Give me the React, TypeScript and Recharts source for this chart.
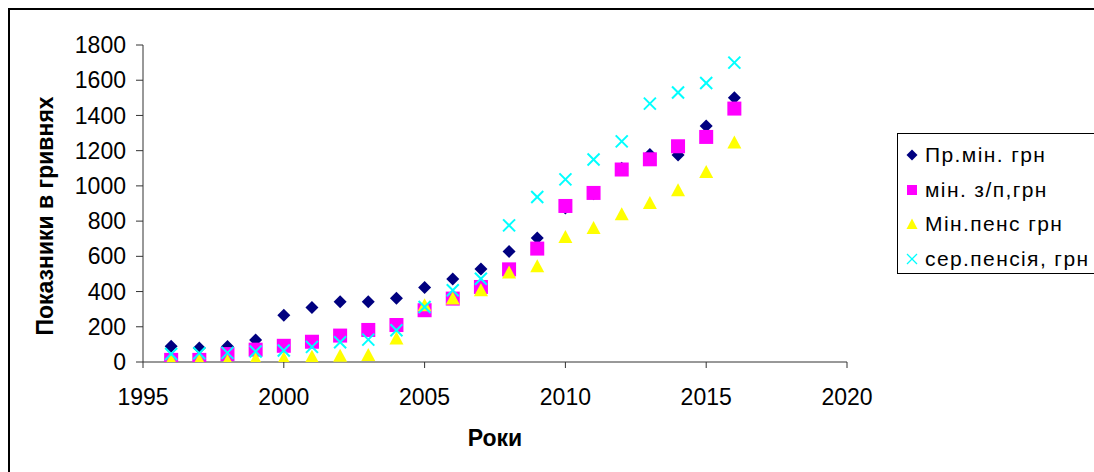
import React from 'react';
import { ScatterChart, Scatter, XAxis, YAxis, Legend, Label } from 'recharts';

const years = [1996, 1997, 1998, 1999, 2000, 2001, 2002, 2003, 2004, 2005, 2006, 2007, 2008, 2009, 2010, 2011, 2012, 2013, 2014, 2015, 2016];
const subsistenceMin = [90, 80, 88, 125, 265, 309, 342, 342, 362, 423, 472, 528, 628, 704, 875, 955, 1100, 1178, 1176, 1340, 1500];
const minWage = [12, 12, 45, 70, 92, 115, 150, 182, 210, 294, 360, 426, 526, 644, 886, 960, 1093, 1151, 1225, 1278, 1439];
const minPension = [10, 10, 6, 17, 20, 30, 35, 40, 133, 322, 360, 407, 508, 543, 710, 761, 839, 903, 975, 1079, 1246];
const avgPension = [45, 50, 52, 60, 65, 86, 112, 127, 180, 312, 407, 473, 776, 937, 1037, 1150, 1253, 1467, 1530, 1584, 1700];

const xTicks = [1995, 2000, 2005, 2010, 2015, 2020];
const yTicks = [0, 200, 400, 600, 800, 1000, 1200, 1400, 1600, 1800];
const seriesNames = ['Пр.мін. грн', 'мін. з/п,грн', 'Мін.пенс грн', 'сер.пенсія, грн'];
const seriesColors = ['#000080', '#FF00FF', '#FFFF00', '#00FFFF'];
const xTitle = 'Роки';
const yTitle = 'Показники в гривнях';

const toData = (vals: number[]) => years.map((y, i) => ({ year: y, value: vals[i] }));

const FONT = '"Liberation Sans", Arial, sans-serif';

const Diamond = (p: any) => {
  const { cx, cy } = p;
  const s = 6.5;
  return <path d={`M${cx},${cy - s}L${cx + s},${cy}L${cx},${cy + s}L${cx - s},${cy}Z`} fill={seriesColors[0]} />;
};
const Square = (p: any) => {
  const { cx, cy } = p;
  return <rect x={cx - 7} y={cy - 7} width={14} height={14} fill={seriesColors[1]} />;
};
const Triangle = (p: any) => {
  const { cx, cy } = p;
  return <path d={`M${cx},${cy - 7}L${cx + 7},${cy + 6}L${cx - 7},${cy + 6}Z`} fill={seriesColors[2]} />;
};
const Cross = (p: any) => {
  const { cx, cy } = p;
  const s = 6;
  return (
    <g stroke={seriesColors[3]} strokeWidth={2}>
      <line x1={cx - s} y1={cy - s} x2={cx + s} y2={cy + s} />
      <line x1={cx - s} y1={cy + s} x2={cx + s} y2={cy - s} />
    </g>
  );
};

const legendMarker = (i: number) => {
  const c = seriesColors[i];
  return (
    <svg width={12} height={12} style={{ display: 'block' }}>
      {i === 0 && <path d="M6,0.5L11.5,6L6,11.5L0.5,6Z" fill={c} />}
      {i === 1 && <rect x={1} y={1} width={10} height={10} fill={c} />}
      {i === 2 && <path d="M6,0.5L11.5,11L0.5,11Z" fill={c} />}
      {i === 3 && (
        <g stroke={c} strokeWidth={1.3}>
          <line x1={1} y1={1} x2={11} y2={11} />
          <line x1={1} y1={11} x2={11} y2={1} />
        </g>
      )}
    </svg>
  );
};

const LegendBox = () => (
  <div
    style={{
      boxSizing: 'border-box',
      width: 197,
      height: 141,
      borderTop: '1px solid #000',
      borderLeft: '1px solid #000',
      borderBottom: '1px solid #000',
      paddingTop: 4,
      fontFamily: FONT,
      fontSize: 21,
      letterSpacing: 1.4,
      color: '#000',
      background: '#fff',
    }}
  >
    {seriesNames.map((n, i) => (
      <div key={n} style={{ height: 34.5, display: 'flex', alignItems: 'center', whiteSpace: 'nowrap' }}>
        <div style={{ width: 8 }} />
        {legendMarker(i)}
        <div style={{ width: 7 }} />
        <span>{n}</span>
      </div>
    ))}
  </div>
);

const XTitle = (props: any) => {
  const vb = props.viewBox || {};
  return (
    <text x={vb.x + vb.width / 2} y={vb.y + 84} textAnchor="middle" fontFamily={FONT} fontWeight="bold" fontSize={23} fill="#000">
      {xTitle}
    </text>
  );
};

const YTitle = (props: any) => {
  const vb = props.viewBox || {};
  const x = vb.x - 30;
  const y = vb.y + 171;
  return (
    <text x={x} y={y} transform={`rotate(-90, ${x}, ${y})`} textAnchor="middle" fontFamily={FONT} fontWeight="bold" fontSize={23} fill="#000">
      {yTitle}
    </text>
  );
};

export default function App() {
  return (
    <div style={{ width: 1094, height: 472, paddingLeft: 8, paddingTop: 8, boxSizing: 'border-box', overflow: 'hidden' }}>
      <style>{'html, body { overflow: hidden; margin: 0; padding: 0; }'}</style>
      <div style={{ position: 'relative', width: 1086, height: 464, overflow: 'hidden' }}>
        <div
          style={{
            position: 'absolute',
            left: 0,
            top: 0,
            width: 1086,
            height: 464,
            boxSizing: 'border-box',
            borderTop: '2px solid #000',
            borderLeft: '2px solid #000',
          }}
        />
        <div style={{ position: 'absolute', left: 0, top: 0 }}>
          <ScatterChart width={1086} height={456} margin={{ top: 37, right: 50, bottom: 72, left: 75 }} style={{ fontFamily: FONT }}>
            <XAxis
              type="number"
              dataKey="year"
              domain={[1995, 2020]}
              ticks={xTicks}
              interval={0}
              height={30}
              tickSize={6}
              tickMargin={21}
              stroke="#333"
              tick={{ fill: '#000', fontSize: 23, fontFamily: FONT }}
              allowDataOverflow
            >
              <Label content={<XTitle />} />
            </XAxis>
            <YAxis
              type="number"
              dataKey="value"
              domain={[0, 1800]}
              ticks={yTicks}
              interval={0}
              width={60}
              tickSize={7}
              tickMargin={10}
              stroke="#333"
              tick={{ fill: '#000', fontSize: 23, fontFamily: FONT }}
              allowDataOverflow
            >
              <Label content={<YTitle />} />
            </YAxis>
            <Legend
              layout="vertical"
              align="right"
              verticalAlign="middle"
              content={<LegendBox />}
              wrapperStyle={{ left: 889, top: 125, right: 'auto', bottom: 'auto', width: 197, height: 141 }}
            />
            <Scatter name={seriesNames[0]} data={toData(subsistenceMin)} fill={seriesColors[0]} shape={Diamond} isAnimationActive={false} />
            <Scatter name={seriesNames[1]} data={toData(minWage)} fill={seriesColors[1]} shape={Square} isAnimationActive={false} />
            <Scatter name={seriesNames[2]} data={toData(minPension)} fill={seriesColors[2]} shape={Triangle} isAnimationActive={false} />
            <Scatter name={seriesNames[3]} data={toData(avgPension)} fill={seriesColors[3]} shape={Cross} isAnimationActive={false} />
          </ScatterChart>
        </div>
      </div>
    </div>
  );
}
